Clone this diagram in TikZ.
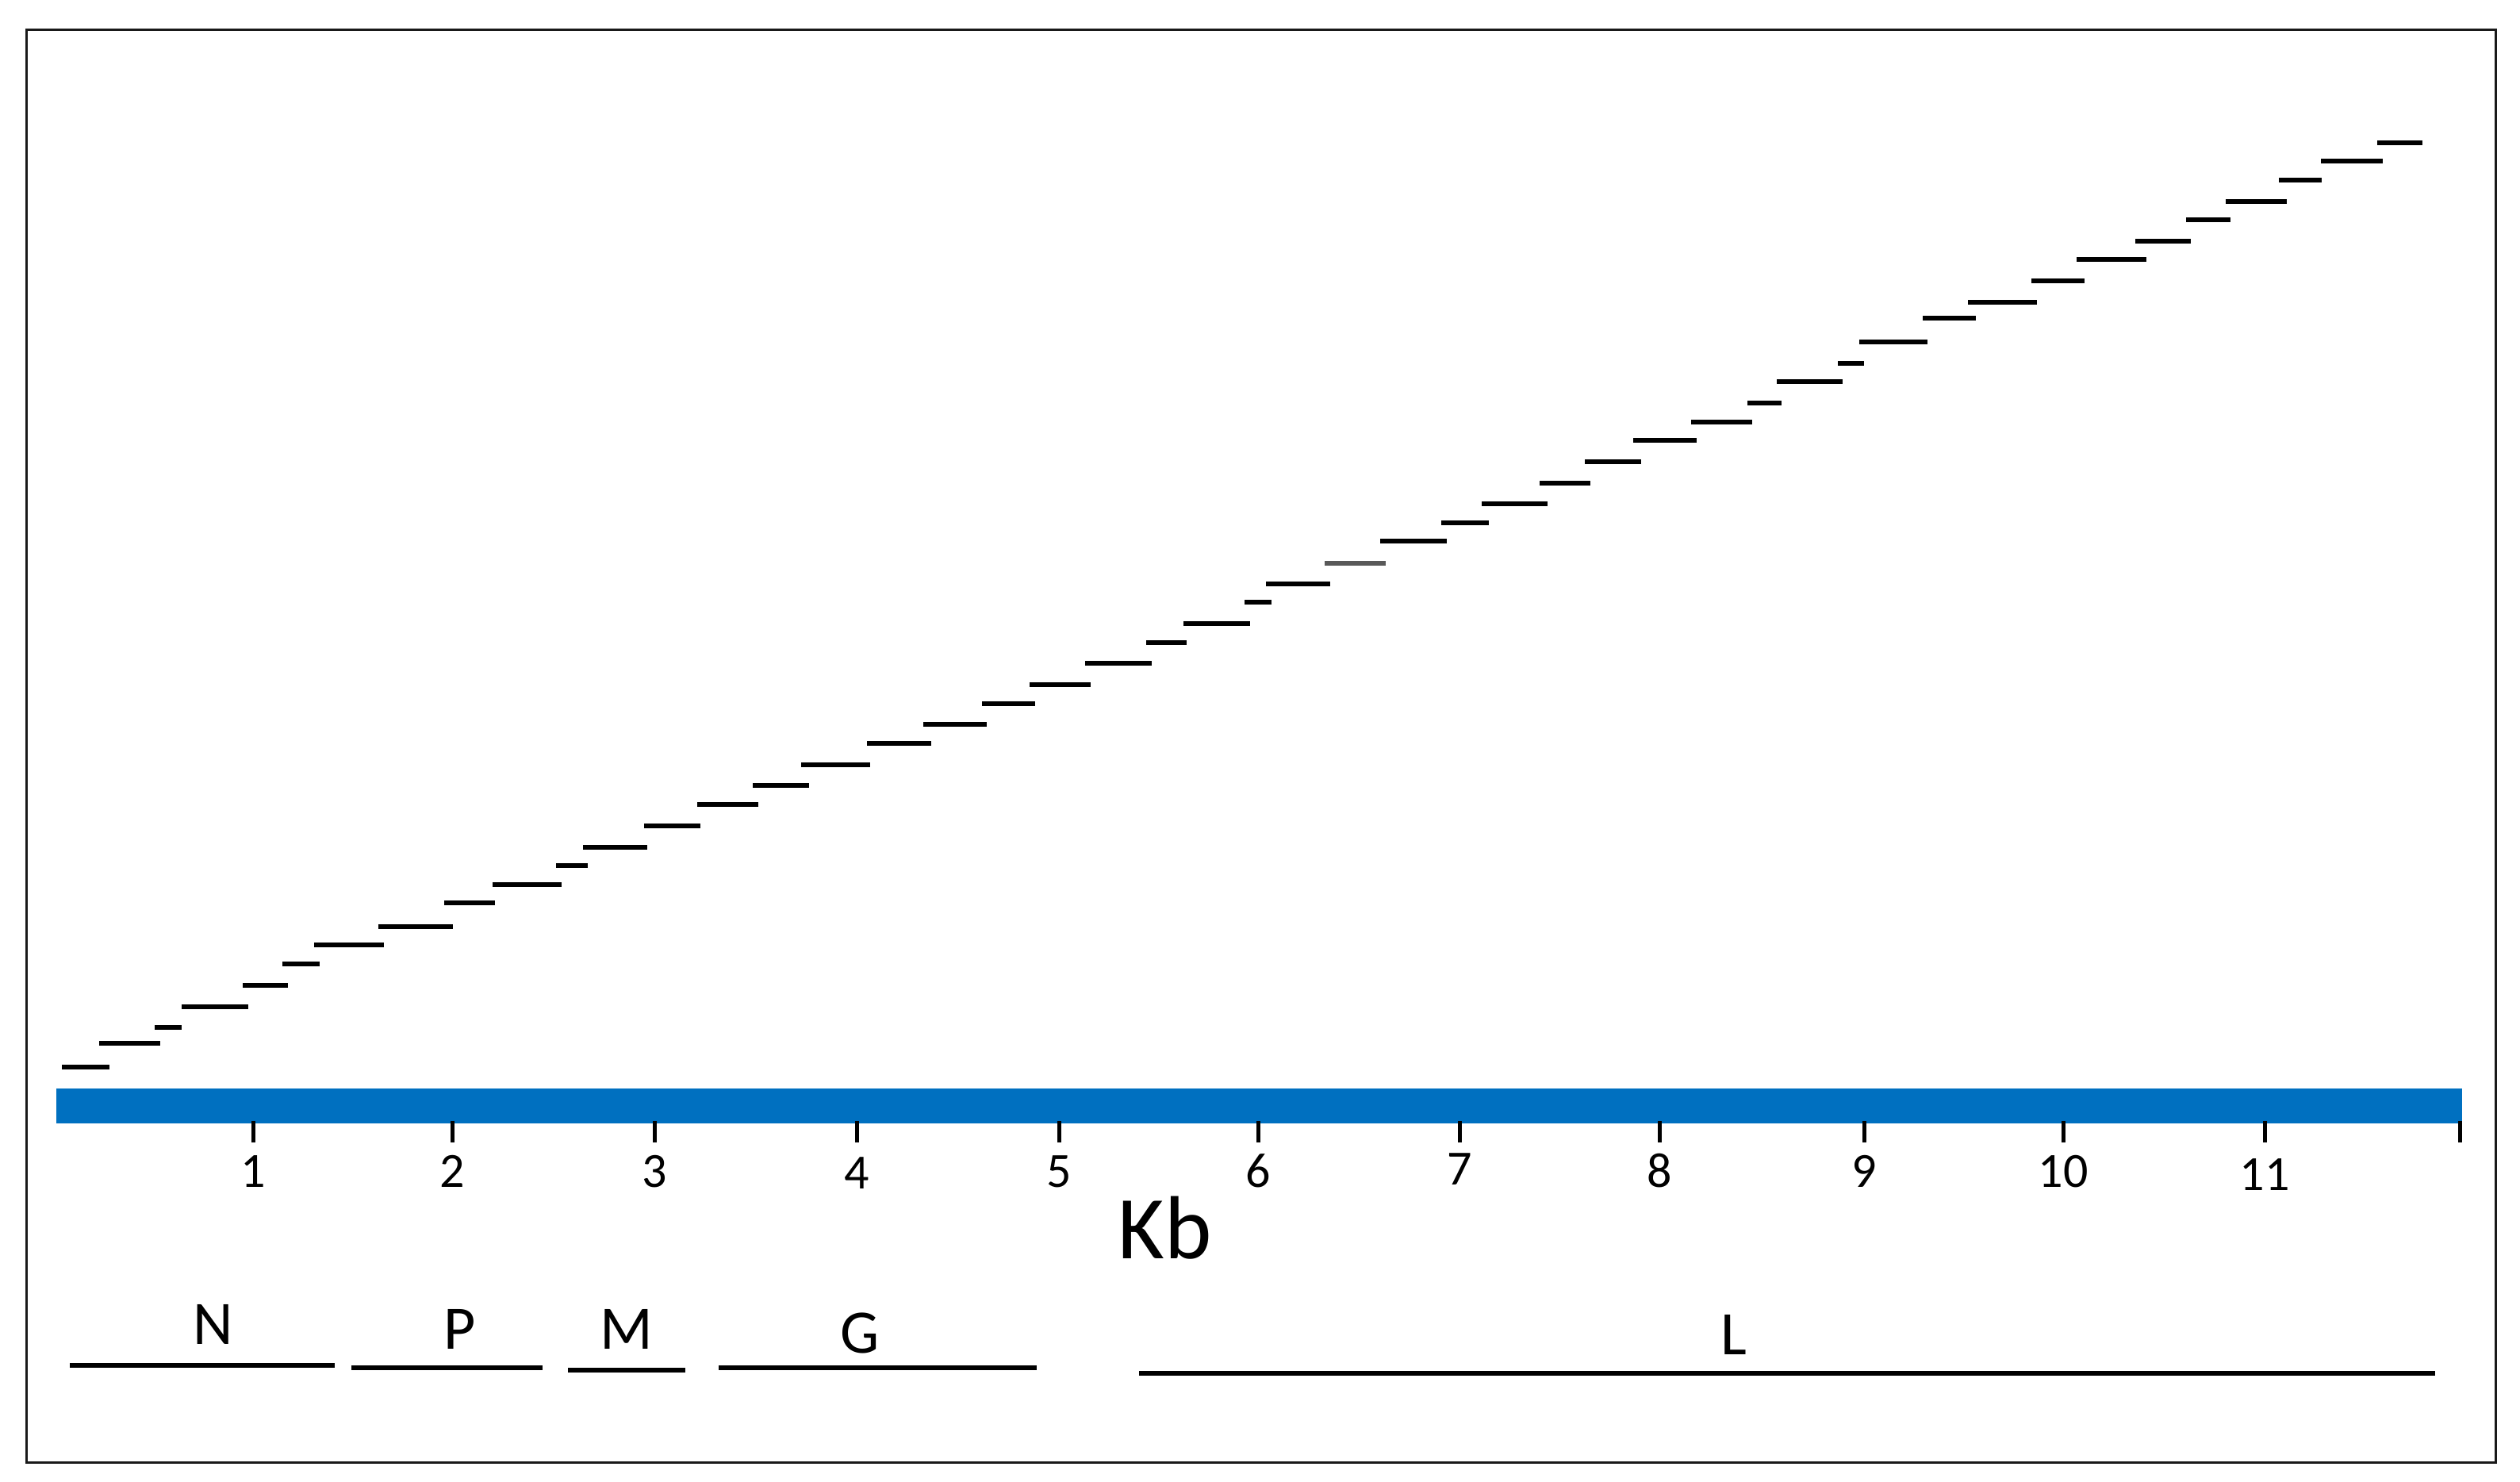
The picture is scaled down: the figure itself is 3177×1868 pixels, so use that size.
\documentclass[tikz,border=0pt]{standalone}
\usepackage{fontspec}
\setmainfont{Carlito}
\definecolor{barblue}{HTML}{0070C0}
\begin{document}
\begin{tikzpicture}[x=1pt,y=-1pt,
  dashseg/.style={line width=6.5pt,line cap=butt,black},
  geneline/.style={line width=6pt,line cap=butt,black},
  tickmark/.style={line width=5pt,line cap=butt,black},
  ticklabel/.style={anchor=base,inner sep=0pt,font=\fontsize{62}{62}\selectfont},
  genelabel/.style={anchor=base,inner sep=0pt,font=\fontsize{78}{78}\selectfont},
  axislabel/.style={anchor=base,inner sep=0pt,font=\fontsize{113}{113}\selectfont}]
\useasboundingbox (0,0) rectangle (3177,1868);
\fill[white] (0,0) rectangle (3177,1868);
% frame
\draw[line width=3pt,black!90] (33,38) rectangle (3146,1843);
% staircase of dashes
\foreach \xa/\xb/\yy in {78/138/1345,125/202/1315,195/229/1295,229/313/1269,
  306/363/1242,356/403/1215,396/484/1191,477/571/1168,560/624/1138,621/708/1115,
  701/741/1091,735/816/1068,812/883/1041,879/956/1014,949/1020/990,1010/1097/964,
  1093/1174/937,1164/1244/913,1238/1305/887,1298/1375/863,1368/1452/836,
  1445/1496/810,1492/1576/786,1569/1603/759,1596/1677/736,
  1740/1824/682,1817/1877/659,1868/1951/635,1941/2005/609,1998/2069/582,
  2059/2139/555,2132/2209/532,2203/2246/508,2240/2323/481,2317/2350/458,
  2344/2430/431,2424/2491/401,2481/2568/381,2561/2628/354,2618/2706/327,
  2692/2762/304,2756/2812/277,2806/2883/254,2873/2927/227,2926/3004/203,
  2997/3054/180}
  \draw[dashseg] (\xa,\yy) -- (\xb,\yy);
\draw[dashseg,black!65] (1670,710) -- (1747,710);
% blue genome bar
\fill[barblue] (71,1372) rectangle (3104,1416);
% ticks and labels
\foreach \tx/\lab/\dy in {319/1/0,570/2/0,825/3/0,1080/4/2,1335/5/0,1586/6/0,
  1840/7/-3,2092/8/0,2350/9/0,2601/10/0,2855/11/4}{
  \draw[tickmark] (\tx,1413) -- (\tx,1440);
  \node[ticklabel] (t\lab) at (\tx,1496+\dy) {\lab};
}
\draw[tickmark] (3101,1413) -- (3101,1440);
\node[axislabel] (kb) at (1469,1586) {Kb};
% gene segments
\draw[geneline] (88,1721) -- (422,1721);
\draw[geneline] (443,1724) -- (684,1724);
\draw[geneline] (716,1727) -- (864,1727);
\draw[geneline] (906,1724) -- (1307,1724);
\draw[geneline] (1436,1731) -- (3070,1731);
\node[genelabel] (gN) at (269,1694) {N};
\node[genelabel] (gP) at (580,1700) {P};
\node[genelabel] (gM) at (790,1700) {M};
\node[genelabel] (gG) at (1084,1705) {G};
\node[genelabel] (gL) at (2186,1707) {L};
\end{tikzpicture}
\end{document}
